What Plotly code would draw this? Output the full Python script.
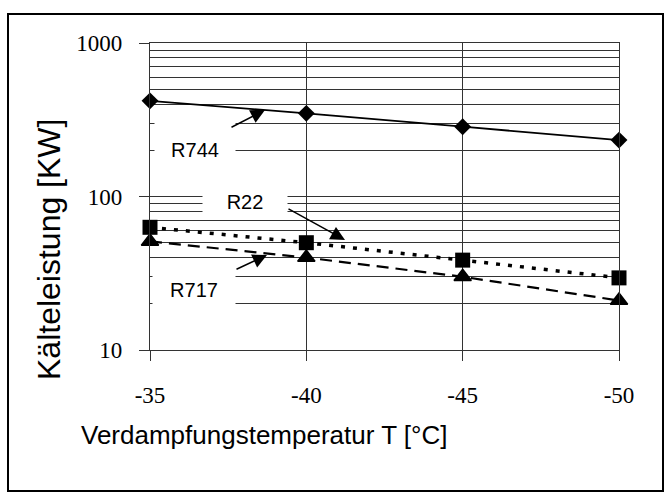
import plotly.graph_objects as go

temps = [-35, -40, -45, -50]
r744 = [420, 348, 285, 233]
r22 = [63, 50, 38.5, 29.5]
r717 = [51, 40, 30, 21]
y_ticks = [10, 100, 1000]
y_ticktext = ["10", "100", "1000"]
x_ticktext = ["-35", "-40", "-45", "-50"]

W, H = 668, 494
L, R, T, B = 150, 49, 43, 144
PW, PH = W - L - R, H - T - B

SERIF = "Times New Roman, Liberation Serif, serif"
SANS = "Arial, Liberation Sans, sans-serif"


def px(x):
    return (x - L) / PW


def py(y):
    return (H - B - y) / PH


fig = go.Figure()
fig.add_trace(go.Scatter(x=temps, y=r744, mode="lines+markers", name="R744",
                         line=dict(color="black", width=1.8),
                         marker=dict(symbol="diamond", size=13, color="black"),
                         cliponaxis=False))
fig.add_trace(go.Scatter(x=temps, y=r22, mode="lines+markers", name="R22",
                         line=dict(color="black", width=3.5, dash="4px,8px"),
                         marker=dict(symbol="square", size=15, color="black"),
                         cliponaxis=False))
fig.add_trace(go.Scatter(x=temps, y=r717, mode="lines+markers", name="R717",
                         line=dict(color="black", width=2.2, dash="12px,7px"),
                         marker=dict(symbol="triangle-up", size=15, color="black",
                                     line=dict(color="black", width=1.5)),
                         cliponaxis=False))

grid = "#333333"
fig.update_xaxes(range=[-35, -50], tickmode="array", tickvals=temps, ticktext=x_ticktext,
                 showgrid=True, gridcolor=grid, gridwidth=1.3,
                 showline=True, linecolor=grid, linewidth=1.3, mirror=True,
                 ticks="outside", ticklen=10, tickwidth=1.3, tickcolor=grid,
                 ticklabelstandoff=14, zeroline=False,
                 tickfont=dict(family=SERIF, size=23, color="black"))
fig.update_yaxes(type="log", range=[1, 3], tickmode="array", tickvals=y_ticks, ticktext=y_ticktext,
                 showgrid=True, gridcolor=grid, gridwidth=1.3,
                 minor=dict(dtick="D1", showgrid=True, gridcolor=grid, gridwidth=1.3, ticks=""),
                 showline=True, linecolor=grid, linewidth=1.3, mirror=True,
                 ticks="outside", ticklen=10, tickwidth=1.3, tickcolor=grid,
                 ticklabelstandoff=12, zeroline=False,
                 tickfont=dict(family=SERIF, size=23, color="black"))

ann = []
# label boxes
for text, cx, cy, w, h in [("R744", 195, 150, 80, 56), ("R22", 245, 201, 84, 25), ("R717", 194, 290, 82, 44)]:
    ann.append(dict(text=text, xref="paper", yref="paper", x=px(cx), y=py(cy),
                    xanchor="center", yanchor="middle", showarrow=False,
                    width=w, height=h, bgcolor="white", borderpad=0,
                    font=dict(family=SANS, size=20, color="black")))
# arrows
for hx, hy, ax, ay in [(265, 110, -35, 18), (345, 240, -58, -32), (267, 255, -32, 15)]:
    ann.append(dict(text="", xref="paper", yref="paper", x=px(hx), y=py(hy),
                    ax=ax, ay=ay, showarrow=True, arrowhead=2, arrowsize=1.9,
                    arrowwidth=1.5, arrowcolor="black", standoff=0, startstandoff=0))
# axis titles
ann.append(dict(text="Verdampfungstemperatur T [°C]", xref="paper", yref="paper",
                x=px(264), y=py(435), xanchor="center", yanchor="middle", showarrow=False,
                font=dict(family=SANS, size=26, color="black")))
ann.append(dict(text="Kälteleistung [KW]", xref="paper", yref="paper", textangle=-90,
                x=px(49), y=py(250), xanchor="center", yanchor="middle", showarrow=False,
                font=dict(family=SANS, size=32, color="black")))

fig.update_layout(
    width=W, height=H,
    margin=dict(l=L, r=R, t=T, b=B),
    paper_bgcolor="white", plot_bgcolor="white",
    showlegend=False,
    annotations=ann,
    shapes=[dict(type="rect", xref="paper", yref="paper",
                 x0=px(8), x1=px(663), y0=py(491), y1=py(14),
                 line=dict(color="black", width=2), fillcolor="rgba(0,0,0,0)", layer="above")],
)

fig.write_html("out.html")
